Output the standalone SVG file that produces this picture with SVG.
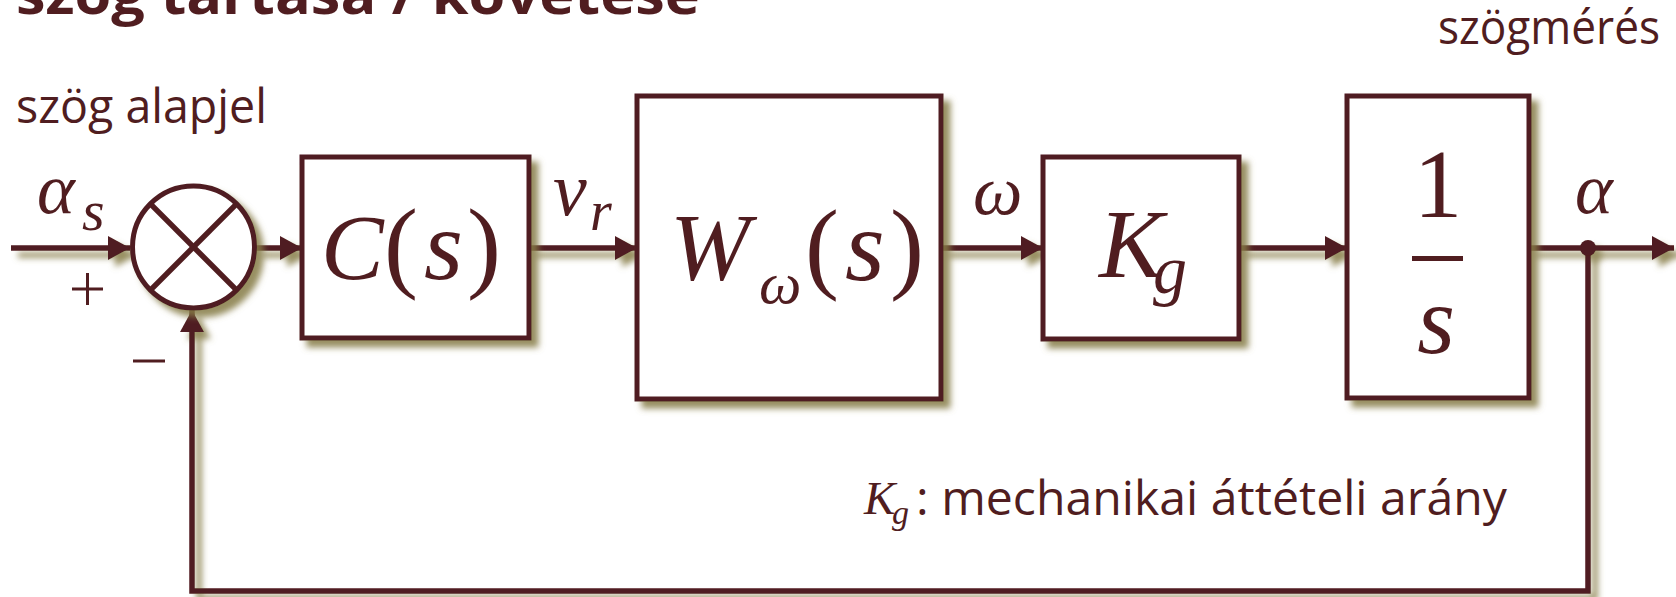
<svg xmlns="http://www.w3.org/2000/svg" width="1676" height="597" viewBox="0 0 1676 597">
<style>
.ln{stroke:#501d20;stroke-width:5.5;fill:none}
.box{stroke:#501d20;stroke-width:5;fill:#fff}
.sans{font-family:"Open Sans","Noto Sans",sans-serif;fill:#501d20}
.math{font-family:"Liberation Serif","DejaVu Serif",serif;fill:#501d20;font-style:italic}
.up{font-style:normal}
</style>
<defs>
<filter id="sh" x="-20%" y="-20%" width="140%" height="140%">
<feDropShadow dx="7" dy="7" stdDeviation="3" flood-color="#857c45" flood-opacity="0.85"/>
</filter>
<marker id="ar" markerUnits="userSpaceOnUse" markerWidth="24" markerHeight="24" refX="22" refY="12" orient="auto">
<path d="M0,0 L22,12 L0,24 Z" fill="#501d20"/>
</marker>
</defs>
<rect width="1676" height="597" fill="#fff"/>
<text class="sans" x="16" y="14" font-size="54" font-weight="bold" textLength="684" lengthAdjust="spacingAndGlyphs">szög tartása / követése</text>
<text class="sans" x="16" y="123" font-size="48" textLength="251" lengthAdjust="spacingAndGlyphs">szög alapjel</text>
<text class="sans" x="1438" y="44" font-size="47" textLength="222" lengthAdjust="spacingAndGlyphs">szögmérés</text>
<g id="connectors" filter="url(#sh)">
<line class="ln" x1="11" y1="248" x2="130" y2="248" marker-end="url(#ar)"/>
<line class="ln" x1="255" y1="248" x2="302" y2="248" marker-end="url(#ar)"/>
<line class="ln" x1="529" y1="248" x2="637" y2="248" marker-end="url(#ar)"/>
<line class="ln" x1="941" y1="248" x2="1043" y2="248" marker-end="url(#ar)"/>
<line class="ln" x1="1239" y1="248" x2="1347" y2="248" marker-end="url(#ar)"/>
<line class="ln" x1="1529" y1="248" x2="1674" y2="248" marker-end="url(#ar)"/>
<polyline class="ln" points="1588,248 1588,591 192,591 192,310" marker-end="url(#ar)"/>
<circle cx="1588" cy="248" r="8" fill="#501d20"/>
</g>
<g id="sum">
<circle cx="193.5" cy="247" r="61" class="box" filter="url(#sh)"/>
<line class="ln" x1="150.4" y1="203.9" x2="236.6" y2="290.1"/>
<line class="ln" x1="236.6" y1="203.9" x2="150.4" y2="290.1"/>
<text class="math" x="37" y="213" font-size="72">α</text>
<text class="math" x="82" y="230" font-size="58">s</text>
<path d="M72,289 H103 M87.5,273 V305" stroke="#501d20" stroke-width="3"/>
<path d="M133,361 H165" stroke="#501d20" stroke-width="3"/>
</g>
<g id="C">
<rect class="box" x="302" y="157" width="227" height="181" filter="url(#sh)"/>
<text class="math" y="279" font-size="94"><tspan x="321">C</tspan><tspan class="up" x="384" font-size="102">(</tspan><tspan x="424" font-size="100">s</tspan><tspan class="up" x="467" font-size="102">)</tspan></text>
</g>
<text class="math" x="553" y="215" font-size="76">v</text>
<text class="math" x="590" y="230" font-size="56">r</text>
<g id="W">
<rect class="box" x="637" y="96" width="304" height="303" filter="url(#sh)"/>
<text class="math" x="670" y="280" font-size="96">W</text>
<text class="math" x="759" y="303" font-size="60">ω</text>
<text class="math" y="280" font-size="102"><tspan class="up" x="805">(</tspan><tspan x="845">s</tspan><tspan class="up" x="890">)</tspan></text>
</g>
<text class="math" x="973" y="214" font-size="70">ω</text>
<g id="Kg">
<rect class="box" x="1043" y="157" width="196" height="182" filter="url(#sh)"/>
<text class="math" x="1099" y="277" font-size="97">K</text>
<text class="math" x="1153" y="293" font-size="68">g</text>
</g>
<g id="integrator">
<rect class="box" x="1347" y="96" width="182" height="302" filter="url(#sh)"/>
<text class="math up" x="1438" y="217" font-size="97" text-anchor="middle">1</text>
<rect x="1412" y="256" width="51" height="5" fill="#501d20"/>
<text class="math" x="1436" y="353" font-size="97" text-anchor="middle">s</text>
</g>
<text class="math" x="1575" y="213" font-size="72">α</text>
<text class="math" x="864" y="514" font-size="47">K</text>
<text class="math" x="892" y="524" font-size="34">g</text>
<text class="sans" x="916" y="515" font-size="47" textLength="591" lengthAdjust="spacingAndGlyphs">: mechanikai áttételi arány</text>
</svg>
